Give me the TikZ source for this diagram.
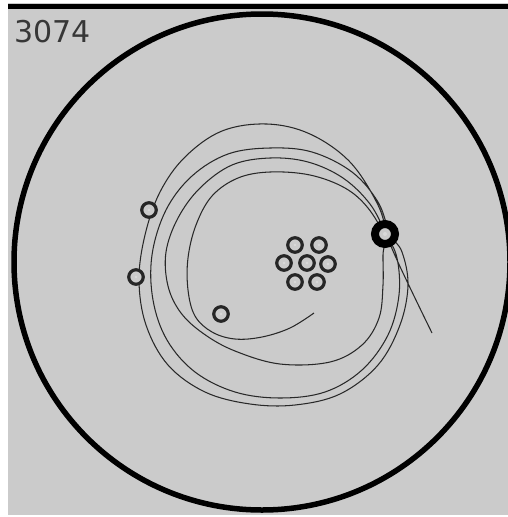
\documentclass[tikz,border=0pt]{standalone}
\usepackage{fontspec}
\newfontfamily\labelfont{DejaVu Sans}
\definecolor{bgc}{RGB}{203,203,203}
\definecolor{ink}{RGB}{40,40,40}
\definecolor{txt}{RGB}{55,55,55}
\definecolor{spot}{RGB}{218,218,218}
\tikzset{
  ring/.style={circle, draw=black!85, line width=3.2pt, fill=bgc, minimum size=14.5pt, inner sep=0pt},
  bigring/.style={circle, draw=black, line width=8pt, fill=bgc, minimum size=20pt, inner sep=0pt},
  traj/.style={draw=ink, line width=1.05pt, line join=round},
  rim/.style={draw=black, line width=5.5pt}
}
\begin{document}
\begin{tikzpicture}[x=1pt,y=-1pt]
\useasboundingbox (0,0) rectangle (508,517);
\fill[white] (0,0) rectangle (508,517);
\fill[bgc] (8,3) rectangle (508,515);
\fill[black] (8,3.5) rectangle (508,9);
\node[anchor=base west, inner sep=0pt, text=txt, font=\labelfont\fontsize{30}{30}\selectfont] (lbl) at (14,42) {3074};
\draw[rim] (262,262) circle[radius=248pt];
% trajectory
\draw[traj] plot[smooth, tension=0.6] coordinates {
(432,333) (414,296) (397,260) (388,238) (378,205) (350,162) (310,134) (267,124) (222,131) (185,157) (160,192) (145,235) (139,280) (146,325) (168,365) (205,392) (250,404) (295,405) (340,394) (378,365) (400,325) (408,285) (402,252) (390,234)
(378,202) (352,172) (312,152) (270,148) (228,154) (192,176) (166,210) (152,255) (153,300) (167,340) (195,372) (235,392) (280,398) (325,392) (362,370) (388,335) (399,295) (397,258) (386,234)
(370,204) (343,178) (308,162) (270,158) (232,165) (200,188) (178,218) (166,252) (168,286) (181,313) (204,334) (235,351) (280,364) (330,362) (362,345) (379,318) (383,285) (383,255) (384,236)
(368,208) (345,188) (310,175) (270,172) (238,178) (212,196) (196,225) (188,258) (188,290) (195,316) (212,332) (235,339) (262,337) (290,328) (314,313)};
% rings
\foreach \n/\x/\y in {c1/295/245, c2/319/245, c3/284/263, c4/307/263, c5/328/264, c6/295/282, c7/317/282, l1/149/210, l2/136/277, l3/221/314}{
  \node[ring] (\n) at (\x,\y) {};
  \fill[spot] (\n.center) circle[radius=1.3pt];
}
\node[bigring] (big) at (385,234) {};
\fill[spot] (big.center) circle[radius=2pt];
\end{tikzpicture}
\end{document}
